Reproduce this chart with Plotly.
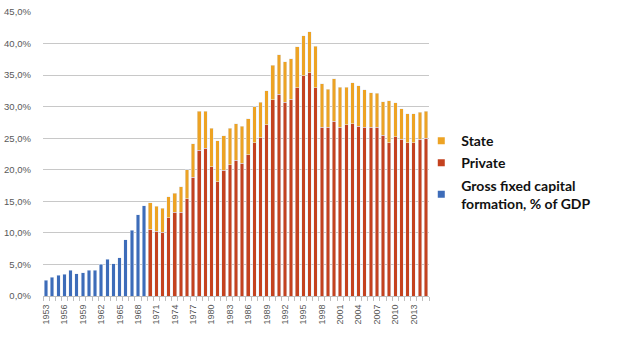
import plotly.graph_objects as go

years_gross = list(range(1953, 1970))
gross = [2.5, 3.0, 3.3, 3.45, 4.1, 3.55, 3.7, 4.1, 4.1, 5.0, 5.8, 5.1, 6.1, 8.95, 10.4, 12.9, 14.3]

years_split = list(range(1970, 2016))
private = [10.6, 10.3, 10.1, 12.4, 13.3, 13.3, 15.4, 18.8, 23.1, 23.4,
           20.5, 18.1, 19.9, 20.8, 21.5, 21.0, 22.4, 24.3, 25.1, 27.1,
           31.1, 32.0, 30.7, 31.2, 33.0, 34.9, 35.4, 33.0, 26.7, 26.7,
           27.7, 26.7, 27.1, 27.3, 26.9, 26.7, 26.7, 26.7, 25.5, 24.3,
           25.2, 24.8, 24.3, 24.3, 24.8, 25.0]
state = [4.2, 3.9, 3.8, 3.3, 3.0, 4.0, 4.6, 5.3, 6.2, 5.9,
         6.1, 6.5, 5.5, 5.8, 5.8, 5.9, 5.7, 5.7, 5.6, 5.4,
         5.5, 6.2, 6.4, 6.4, 6.5, 6.3, 6.5, 6.6, 6.9, 6.1,
         6.7, 6.4, 6.0, 6.5, 6.4, 6.0, 5.5, 5.4, 5.3, 6.6,
         5.4, 4.9, 4.6, 4.6, 4.3, 4.3]

y_ticks = [0, 5, 10, 15, 20, 25, 30, 35, 40, 45]
y_tick_text = ["0,0%", "5,0%", "10,0%", "15,0%", "20,0%", "25,0%", "30,0%", "35,0%", "40,0%", "45,0%"]
x_ticks = list(range(1953, 2014, 3))

legend_names = ["State", "Private", "Gross fixed capital<br>formation, % of GDP"]

c_blue = "#3d6cb9"
c_red = "#c4421f"
c_orange = "#eda324"

fig = go.Figure()
fig.add_trace(go.Bar(x=years_gross, y=gross, marker_color=c_blue, showlegend=False))
fig.add_trace(go.Bar(x=years_split, y=private, marker_color=c_red, showlegend=False))
fig.add_trace(go.Bar(x=years_split, y=state, marker_color=c_orange, showlegend=False))

for i, (name, col) in enumerate(zip(legend_names, [c_orange, c_red, c_blue])):
    fig.add_trace(go.Scatter(x=[None], y=[None], mode="markers", name=name,
                             legendgroup="g%d" % i,
                             marker=dict(symbol="square", size=7, color=col)))

fig.update_layout(
    width=644, height=338,
    margin=dict(l=43, r=215, t=12, b=42),
    barmode="stack", bargap=0.42,
    plot_bgcolor="white", paper_bgcolor="white",
    font=dict(family="Liberation Sans", color="#595959"),
    legend=dict(x=0.98, xanchor="left", y=0.602, yanchor="top",
                font=dict(family="Lato", size=14, color="#111111", weight="bold"),
                bgcolor="rgba(0,0,0,0)", itemwidth=30, traceorder="grouped",
                tracegroupgap=1),
    xaxis=dict(range=[1952.5, 2015.5], tickvals=x_ticks, tickangle=-90,
               tickfont=dict(size=9, color="#595959"), showgrid=False,
               showline=True, linecolor="#bfbfbf", linewidth=1,
               ticks="", ticklabelstandoff=4, automargin=False,
               minor=dict(tick0=1952.5, dtick=1, ticks="outside", ticklen=4,
                          tickcolor="#bfbfbf", showgrid=False)),
    yaxis=dict(range=[0, 45], tickvals=y_ticks, ticktext=y_tick_text,
               tickfont=dict(size=9.5, color="#595959"), showgrid=True,
               gridcolor="#c8c8c8", gridwidth=1, zeroline=False, automargin=False,
               ticks="", ticklabelstandoff=11),
)

fig.write_html("out.html")
